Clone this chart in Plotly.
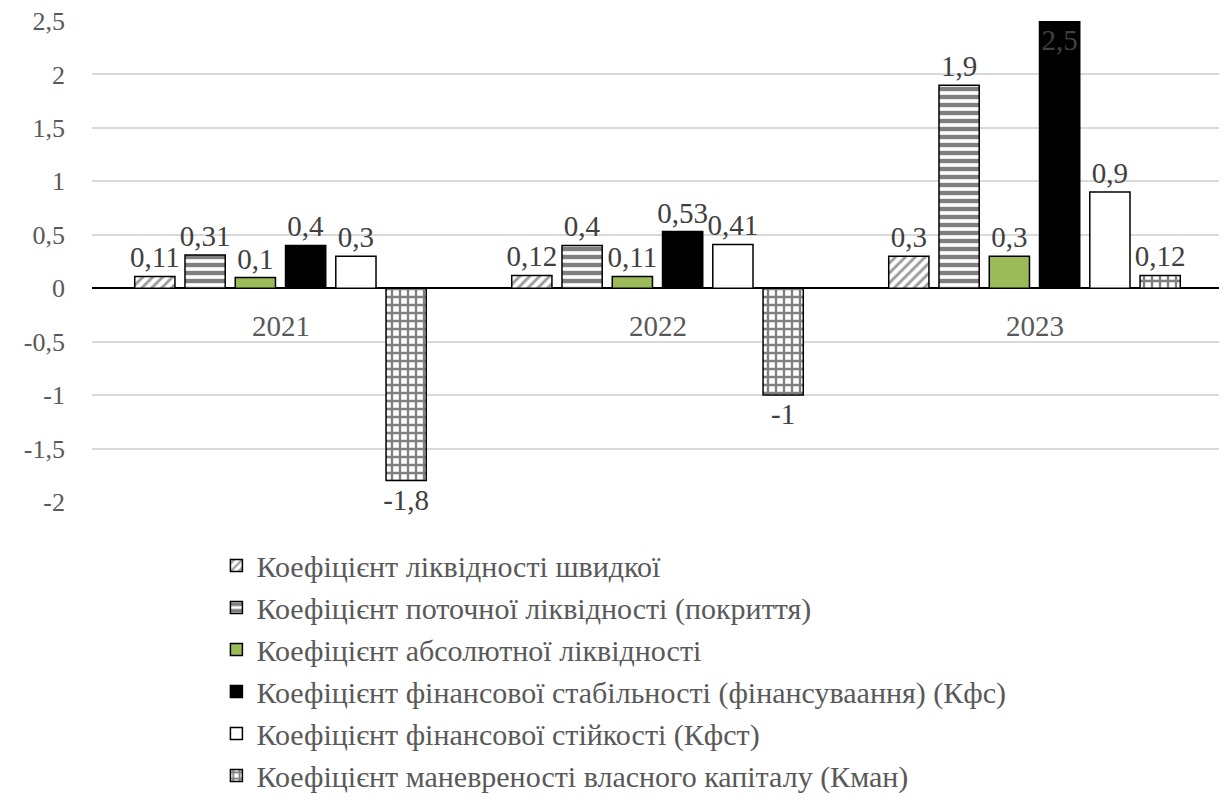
import plotly.graph_objects as go

categories = ["2021", "2022", "2023"]
series_names = [
    "Коефіцієнт ліквідності швидкої",
    "Коефіцієнт поточної ліквідності (покриття)",
    "Коефіцієнт абсолютної ліквідності",
    "Коефіцієнт фінансової стабільності (фінансуваання) (Кфс)",
    "Коефіцієнт фінансової стійкості (Кфст)",
    "Коефіцієнт маневреності власного капіталу (Кман)",
]
quick = [0.11, 0.12, 0.3]
current = [0.31, 0.4, 1.9]
absolute = [0.1, 0.11, 0.3]
stability = [0.4, 0.53, 2.5]
sustain = [0.3, 0.41, 0.9]
maneuver = [-1.8, -1.0, 0.12]
series_values = [quick, current, absolute, stability, sustain, maneuver]

tick_vals = [-2, -1.5, -1, -0.5, 0, 0.5, 1, 1.5, 2, 2.5]
tick_text = ["-2", "-1,5", "-1", "-0,5", "0", "0,5", "1", "1,5", "2", "2,5"]

FONT = "Times New Roman, Liberation Serif, DejaVu Serif, serif"

styles = [
    dict(color="white", pattern=dict(shape="/", fgcolor="#333333", bgcolor="white", size=7, solidity=0.4)),
    dict(color="white", pattern=dict(shape="-", fgcolor="black", bgcolor="white", size=8, solidity=0.55)),
    dict(color="#9BBB59"),
    dict(color="black"),
    dict(color="white"),
    dict(color="white", pattern=dict(shape="+", fgcolor="black", bgcolor="white", size=8, solidity=0.5)),
]

def fmt(v):
    return ("%g" % v).replace(".", ",")

label_font = dict(family=FONT, size=29, color="#404040")

fig = go.Figure()
for k, (name, vals, st) in enumerate(zip(series_names, series_values, styles)):
    positions = ["outside"] * len(vals)
    if vals is stability:
        positions = ["outside", "outside", "inside"]
    marker = dict(line=dict(color="black", width=1.5), **st)
    fig.add_trace(go.Bar(
        x=categories, y=vals, name=name, legendgroup="g%d" % k,
        text=[fmt(v) for v in vals], textposition=positions,
        insidetextanchor="end", textangle=0, constraintext="none",
        textfont=label_font, outsidetextfont=label_font, insidetextfont=label_font,
        marker=marker, cliponaxis=False,
    ))

for i, c in enumerate(categories):
    fig.add_annotation(x=i, y=0, xref="x", yref="y", text=c, showarrow=False,
                       yanchor="top", yshift=-20,
                       font=dict(family=FONT, size=29, color="#595959"))

fig.update_layout(
    width=1219, height=795,
    barmode="group", bargap=0.2, bargroupgap=0.2,
    plot_bgcolor="white", paper_bgcolor="white",
    margin=dict(l=84, r=4, t=13, b=301, autoexpand=False),
    font=dict(family=FONT, size=29, color="#595959"),
    showlegend=True,
    legend=dict(orientation="v", x=0.11, xanchor="left", y=-0.078, yanchor="top",
                font=dict(family=FONT, size=30, color="#595959"),
                itemwidth=30, tracegroupgap=4, traceorder="normal"),
)
fig.update_xaxes(type="category", categoryorder="array", categoryarray=categories,
                 range=[-0.5, 2.5], autorange=False,
                 showticklabels=False, showgrid=False, showline=False,
                 zeroline=False, ticks="")
fig.update_yaxes(range=[-2, 2.5], autorange=False, tickvals=tick_vals, ticktext=tick_text,
                 showgrid=True, gridcolor="#D9D9D9", gridwidth=1.5,
                 zeroline=True, zerolinecolor="black", zerolinewidth=1.5,
                 showline=False, ticks="", ticklabelstandoff=26, ticklabeloverflow="allow",
                 tickfont=dict(family=FONT, size=26, color="#595959"))

fig.write_html("out.html")
